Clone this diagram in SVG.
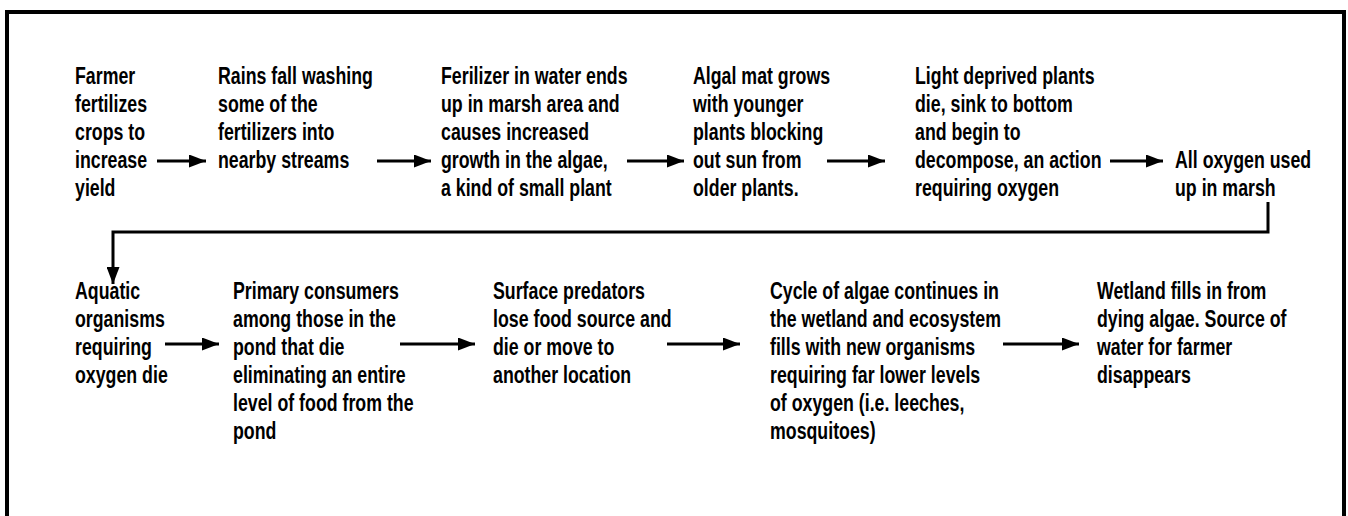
<svg xmlns="http://www.w3.org/2000/svg" width="1348" height="516" viewBox="0 0 1348 516">
<style>
text{font-family:"Liberation Sans",Arial,sans-serif;font-size:24px;font-weight:bold;fill:#000}
.c{fill:none;stroke:#000;stroke-width:3}
</style>
<defs>
<marker id="ah" markerWidth="17" markerHeight="13" refX="17" refY="6.5" orient="auto" markerUnits="userSpaceOnUse">
<path d="M0,0 L17,6.5 L0,13 Z" fill="#000"/>
</marker>
</defs>
<rect width="1348" height="516" fill="#fff"/>
<path d="M7,516 V12 H1344 V516" fill="none" stroke="#000" stroke-width="4"/>
<g id="connectors">
<line class="c" x1="157" y1="161" x2="206" y2="161" marker-end="url(#ah)"/>
<line class="c" x1="377" y1="161" x2="431" y2="161" marker-end="url(#ah)"/>
<line class="c" x1="627" y1="161" x2="684" y2="161" marker-end="url(#ah)"/>
<line class="c" x1="827" y1="161" x2="885" y2="161" marker-end="url(#ah)"/>
<line class="c" x1="1110" y1="161" x2="1163" y2="161" marker-end="url(#ah)"/>
<path class="c" d="M1268,202 V232 H113 V284" marker-end="url(#ah)"/>
<line class="c" x1="165" y1="344" x2="219" y2="344" marker-end="url(#ah)"/>
<line class="c" x1="400" y1="344" x2="475" y2="344" marker-end="url(#ah)"/>
<line class="c" x1="667" y1="344" x2="740" y2="344" marker-end="url(#ah)"/>
<line class="c" x1="1003" y1="344" x2="1079" y2="344" marker-end="url(#ah)"/>
</g>
<g id="n1"><text transform="translate(75,84) scale(0.74,1)"><tspan x="0" y="0">Farmer</tspan><tspan x="0" y="28">fertilizes</tspan><tspan x="0" y="56">crops to</tspan><tspan x="0" y="84">increase</tspan><tspan x="0" y="112">yield</tspan></text></g>
<g id="n2"><text transform="translate(218,84) scale(0.74,1)"><tspan x="0" y="0">Rains fall washing</tspan><tspan x="0" y="28">some of the</tspan><tspan x="0" y="56">fertilizers into</tspan><tspan x="0" y="84">nearby streams</tspan></text></g>
<g id="n3"><text transform="translate(441,84) scale(0.74,1)"><tspan x="0" y="0">Ferilizer in water ends</tspan><tspan x="0" y="28">up in marsh area and</tspan><tspan x="0" y="56">causes increased</tspan><tspan x="0" y="84">growth in the algae,</tspan><tspan x="0" y="112">a kind of small plant</tspan></text></g>
<g id="n4"><text transform="translate(693,84) scale(0.74,1)"><tspan x="0" y="0">Algal mat grows</tspan><tspan x="0" y="28">with younger</tspan><tspan x="0" y="56">plants blocking</tspan><tspan x="0" y="84">out sun from</tspan><tspan x="0" y="112">older plants.</tspan></text></g>
<g id="n5"><text transform="translate(915,84) scale(0.74,1)"><tspan x="0" y="0">Light deprived plants</tspan><tspan x="0" y="28">die, sink to bottom</tspan><tspan x="0" y="56">and begin to</tspan><tspan x="0" y="84">decompose, an action</tspan><tspan x="0" y="112">requiring oxygen</tspan></text></g>
<g id="n6"><text transform="translate(1175,168) scale(0.74,1)"><tspan x="0" y="0">All oxygen used</tspan><tspan x="0" y="28">up in marsh</tspan></text></g>
<g id="n7"><text transform="translate(75,299) scale(0.74,1)"><tspan x="0" y="0">Aquatic</tspan><tspan x="0" y="28">organisms</tspan><tspan x="0" y="56">requiring</tspan><tspan x="0" y="84">oxygen die</tspan></text></g>
<g id="n8"><text transform="translate(233,299) scale(0.74,1)"><tspan x="0" y="0">Primary consumers</tspan><tspan x="0" y="28">among those in the</tspan><tspan x="0" y="56">pond that die</tspan><tspan x="0" y="84">eliminating an entire</tspan><tspan x="0" y="112">level of food from the</tspan><tspan x="0" y="140">pond</tspan></text></g>
<g id="n9"><text transform="translate(493,299) scale(0.74,1)"><tspan x="0" y="0">Surface predators</tspan><tspan x="0" y="28">lose food source and</tspan><tspan x="0" y="56">die or move to</tspan><tspan x="0" y="84">another location</tspan></text></g>
<g id="n10"><text transform="translate(770,299) scale(0.74,1)"><tspan x="0" y="0">Cycle of algae continues in</tspan><tspan x="0" y="28">the wetland and ecosystem</tspan><tspan x="0" y="56">fills with new organisms</tspan><tspan x="0" y="84">requiring far lower levels</tspan><tspan x="0" y="112">of oxygen (i.e. leeches,</tspan><tspan x="0" y="140">mosquitoes)</tspan></text></g>
<g id="n11"><text transform="translate(1097,299) scale(0.74,1)"><tspan x="0" y="0">Wetland fills in from</tspan><tspan x="0" y="28">dying algae. Source of</tspan><tspan x="0" y="56">water for farmer</tspan><tspan x="0" y="84">disappears</tspan></text></g>
</svg>
